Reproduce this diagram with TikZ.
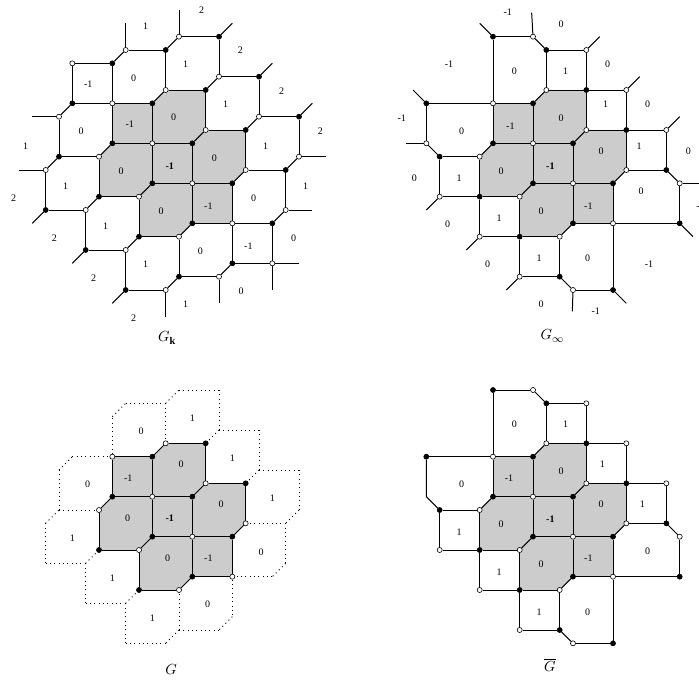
\documentclass[tikz,border=0pt]{standalone}
\usepackage{fontspec}
\setmainfont{Liberation Serif}
\usetikzlibrary{backgrounds}
\tikzset{
  vtx/.style={circle,draw=black,line width=0.45pt,inner sep=0pt,minimum size=3.8pt},
  wdot/.style={vtx,fill=white},
  bdot/.style={vtx,fill=black},
  edg/.style={line width=0.75pt},
  dotedg/.style={line width=0.75pt,dash pattern=on 0.75pt off 2.5pt},
  grayfill/.style={fill=black!20},
  lbl/.style={font=\fontsize{7.5}{9}\selectfont,inner sep=0pt},
  captxt/.style={font=\fontsize{11}{13}\selectfont,inner sep=0pt}
}
\newcommand\pfx{K}
\newcommand\Wv[1]{\foreach \x/\y in {#1}{\node[wdot] (\pfx\x y\y) at (\x,\y) {};}}
\newcommand\Bv[1]{\foreach \x/\y in {#1}{\node[bdot] (\pfx\x y\y) at (\x,\y) {};}}
\newcommand\Cv[1]{\foreach \x/\y in {#1}{\coordinate (\pfx\x y\y) at (\x,\y);}}
\newcommand\Ed[1]{\foreach \a/\b/\c/\d in {#1}{\draw[edg] (\pfx\a y\b) -- (\pfx\c y\d);}}
\newcommand\Dt[1]{\foreach \a/\b/\c/\d in {#1}{\draw[dotedg] (\pfx\a y\b) -- (\pfx\c y\d);}}
\newcommand\Dg[1]{\foreach \a/\b/\c/\d [count=\i] in {#1}{\coordinate (\pfx e\i) at (\c,\d); \draw[edg] (\pfx\a y\b) -- (\pfx e\i);}}
\newcommand\Lb[1]{\foreach \x/\y/\t [count=\i] in {#1}{\node[lbl] (\pfx l\i) at (\x,\y) {\t};}}
\newcommand\central{%
  \Wv{-3/-3,1/-4,4/-1,0/0,-4/1,7/2,3/3,-1/4,6/6,2/7}%
  \Bv{0/-3,4/-4,7/-1,-3/0,3/0,0/3,6/3,-4/4,3/6,-1/7}%
  \begin{pgfonlayer}{background}
    \fill[grayfill] (\pfx-3y-3.center) -- (\pfx0y-3.center) -- (\pfx1y-4.center) -- (\pfx4y-4.center)
      -- (\pfx4y-1.center) -- (\pfx7y-1.center) -- (\pfx7y2.center) -- (\pfx6y3.center)
      -- (\pfx6y6.center) -- (\pfx3y6.center) -- (\pfx2y7.center) -- (\pfx-1y7.center)
      -- (\pfx-1y4.center) -- (\pfx-4y4.center) -- (\pfx-4y1.center) -- (\pfx-3y0.center) -- cycle;
  \end{pgfonlayer}
  \Ed{-3/-3/0/-3, 0/-3/1/-4, 1/-4/4/-4, 4/-4/4/-1, 4/-1/7/-1, 7/-1/7/2, 7/2/6/3, 6/3/6/6,
      6/6/3/6, 3/6/2/7, 2/7/-1/7, -1/7/-1/4, -1/4/-4/4, -4/4/-4/1, -4/1/-3/0, -3/0/-3/-3,
      0/-3/0/0, -3/0/0/0, 0/0/3/0, 3/0/4/-1, 3/0/3/3, 0/0/0/3, 0/3/3/3, 3/3/6/3, 3/3/3/6, 0/3/-1/4}%
}
\begin{document}
\begin{tikzpicture}[x=10pt,y=-10pt]
\useasboundingbox (0,0) rectangle (52.425,51.15);

% ---------------- G_k ----------------
\begin{scope}[shift={(11.425,10.75)}]
\renewcommand\pfx{K}
\central
\Wv{2/-8,-2/-7,-6/-6,5/-5,-7/-2,8/-2,11/1,-8/2,10/5,-5/5,-2/8,9/9,5/10,1/11}
\Bv{5/-8,1/-7,-3/-6,8/-5,-6/-3,11/-2,-7/1,10/2,-8/5,9/6,-5/8,6/9,2/10,-2/11}
\Ed{2/-8/5/-8, -2/-7/1/-7, -6/-6/-3/-6, 5/-5/8/-5, -6/-3/-3/-3, 8/-2/11/-2, -7/1/-4/1, 7/2/10/2,
    -8/5/-5/5, 6/6/9/6, -5/8/-2/8, 6/9/9/9, 2/10/5/10, -2/11/1/11,
    5/-8/5/-5, 1/-7/1/-4, -6/-6/-6/-3, -3/-6/-3/-3, 8/-5/8/-2, 11/-2/11/1, -7/-2/-7/1, -8/2/-8/5,
    10/2/10/5, -5/5/-5/8, 9/6/9/9, 6/6/6/9, 2/7/2/10, -2/8/-2/11,
    2/-8/1/-7, -2/-7/-3/-6, 5/-5/4/-4, -7/-2/-6/-3, 8/-2/7/-1, 11/1/10/2, -7/1/-8/2, -4/4/-5/5,
    10/5/9/6, -1/7/-2/8, 6/9/5/10, 2/10/1/11}
\Dg{2/-8/2/-10, -2/-7/-2/-9, 5/-8/6/-9, 8/-5/9/-6, 11/-2/12/-3, -7/-2/-9/-2, -8/2/-10/2, 11/1/13/1,
    10/5/12/5, 9/9/11/9, 9/9/9/11, 5/10/5/12, 1/11/1/13, -8/5/-9/6, -5/8/-6/9, -2/11/-3/12}
\Lb{3.7/-10/2, -0.5/-8.8/1, 6.6/-6.95/2, 2.5/-5.9/1, -1.4/-4.9/0, -4.8/-4.4/-1, 9.7/-3.9/2,
    5.5/-2.9/1, 1.6/-1.95/0, -1.7/-1.4/-1, -5.35/-0.9/0, 12.6/-0.9/2, -9.5/0.2/1, 8.5/0.2/1,
    4.65/1.1/0, 1.3/1.7/\textbf{-1}, -2.35/2.1/0, -6.5/3.2/1, 11.5/3.2/1, -10.4/4.1/2, 7.6/4.1/0,
    4.2/4.7/-1, 0.65/5.1/0, -3.5/6.2/1, -7.35/7.1/2, 10.6/7.1/0, 7.2/7.7/-1, 3.6/8.1/0,
    -0.5/9.1/1, -4.4/10.1/2, 6.65/11.1/0, 2.5/12.1/1, -1.4/13.1/2}
\node[captxt] (Kcap) at (1.1,14.6) {$G_{\mathbf{k}}$};
\end{scope}

% ---------------- G_infinity ----------------
\begin{scope}[shift={(39.975,10.75)}]
\renewcommand\pfx{I}
\central
\Wv{0/-8,4/-7,7/-4,-8/0,10/-1,11/3,-7/4,-4/7,-1/10,3/11}
\Bv{-3/-8,1/-7,-8/-3,10/2,11/6,-7/1,2/10,6/11}
\Ed{-3/-8/0/-8, 1/-7/4/-7, 4/-4/7/-4, -8/-3/-3/-3, 7/-1/10/-1, -7/1/-4/1, 7/2/10/2, -7/4/-4/4,
    6/6/11/6, -4/7/-1/7, -1/10/2/10, 3/11/6/11,
    -3/-8/-3/-3, 1/-7/1/-4, 4/-7/4/-4, 7/-4/7/-1, -8/-3/-8/0, 10/-1/10/2, -7/1/-7/4, 11/3/11/6,
    -4/4/-4/7, -1/7/-1/10, 2/7/2/10, 6/6/6/11,
    0/-8/1/-7, -8/0/-7/1, 10/2/11/3, 2/10/3/11}
\Dg{-3/-8/-4/-9, 0/-8/-0.1/-9.8, 4/-7/5/-8, 7/-4/8/-5, 10/-1/11/-2, -8/-3/-9/-4, -8/0/-9.5/0,
    -7/4/-8/5, 11/3/13/3, 11/6/12/7, -4/7/-5/8, -1/10/-2/11, 3/11/2.95/12.6, 6/11/7/12}
\Lb{-1.9/-9.8/-1, 2.1/-8.9/0, -6.3/-5.9/-1, -1.4/-5.4/0, 2.45/-5.4/1, 5.6/-5.9/0, 5.45/-2.9/1,
    8.6/-2.9/0, -9.85/-1.9/-1, -5.35/-0.9/0, -1.7/-1.3/-1, 2.1/-1.9/0, 7.95/0.2/1, 11.65/0.6/0,
    5.1/0.6/0, 1.3/1.7/\textbf{-1}, -8.9/2.6/0, -5.55/2.6/1, -2.4/2.1/0, 8.1/3.6/0, 12.56/4.75/-1,
    -6.4/6.1/0, -2.55/5.6/1, 0.6/5.1/0, 4.15/4.7/-1, -3.4/9.1/0, 0.45/8.6/1, 4.1/8.6/0,
    8.7/9.1/-1, 0.6/12.1/0, 4.7/12.6/-1}
\node[captxt] (Icap) at (1.45,14.45) {$G_{\infty}$};
\end{scope}

% ---------------- G ----------------
\begin{scope}[shift={(11.425,37.25)}]
\renewcommand\pfx{G}
\central
\Cv{-3/-6,-2/-7,1/-7,2/-8,5/-8,5/-5,8/-5,8/-2,11/-2,11/1,10/2,10/5,9/6,6/9,5/10,2/10,1/11,
    -2/11,-2/8,-5/8,-5/5,-8/5,-8/2,-7/1,-7/-2,-6/-3}
\Dt{-3/-3/-3/-6, -3/-6/-2/-7, -2/-7/1/-7, 1/-7/1/-4, 1/-7/2/-8, 2/-8/5/-8, 5/-8/5/-5, 5/-5/4/-4,
    5/-5/8/-5, 8/-5/8/-2, 8/-2/7/-1, 8/-2/11/-2, 11/-2/11/1, 11/1/10/2, 10/2/7/2, 10/2/10/5,
    10/5/9/6, 9/6/6/6, 6/6/6/9, 6/9/5/10, 5/10/2/10, 2/10/2/7, 2/10/1/11, 1/11/-2/11,
    -2/11/-2/8, -2/8/-1/7, -2/8/-5/8, -5/8/-5/5, -5/5/-4/4, -5/5/-8/5, -8/5/-8/2, -8/2/-7/1,
    -7/1/-4/1, -7/1/-7/-2, -7/-2/-6/-3, -6/-3/-3/-3}
\Lb{3/-5.9/1, -0.85/-4.9/0, 6/-2.9/1, -4.85/-0.9/0, -1.8/-1.4/-1, 2.15/-2.4/0, 9/0.1/1,
    5.15/0.6/0, -1.85/1.6/0, 1.3/1.6/\textbf{-1}, -6/3.1/1, 8.15/4.2/0, 4.2/4.6/-1, 1.15/4.6/0,
    -3/6.1/1, 4.15/8.1/0, 0/9.1/1}
\node[captxt] (Gcap) at (1.4,13.0) {$G$};
\end{scope}

% ---------------- G bar ----------------
\begin{scope}[shift={(39.975,37.25)}]
\renewcommand\pfx{H}
\central
\Wv{0/-8,4/-7,7/-4,10/-1,11/3,-7/4,-4/7,-1/10,3/11}
\Cv{-8/0}
\Bv{-3/-8,1/-7,-8/-3,10/2,11/6,-7/1,2/10,6/11}
\Ed{-3/-8/0/-8, 1/-7/4/-7, 4/-4/7/-4, -8/-3/-3/-3, 7/-1/10/-1, -7/1/-4/1, 7/2/10/2, -7/4/-4/4,
    6/6/11/6, -4/7/-1/7, -1/10/2/10, 3/11/6/11,
    -3/-8/-3/-3, 1/-7/1/-4, 4/-7/4/-4, 7/-4/7/-1, 10/-1/10/2, -7/1/-7/4, 11/3/11/6,
    -4/4/-4/7, -1/7/-1/10, 2/7/2/10, 6/6/6/11,
    0/-8/1/-7, 10/2/11/3, 2/10/3/11}
\draw[edg] (H-8y-3) -- (H-8y0) -- (H-7y1);
\Lb{-1.4/-5.4/0, 2.45/-5.4/1, 5.2/-2.4/1, -5.35/-0.9/0, -1.8/-1.4/-1, 2.1/-1.9/0, 8.2/0.6/1,
    5.1/0.6/0, 1.3/1.7/\textbf{-1}, -5.55/2.7/1, -2.4/2.1/0, 8.6/4.1/0, -2.55/5.7/1, 0.6/5.1/0,
    4.15/4.6/-1, 0.45/8.7/1, 4.1/8.7/0}
\node[captxt] (Hcap) at (1.27,12.6) {$\overline{G}$};
\end{scope}
\end{tikzpicture}
\end{document}
